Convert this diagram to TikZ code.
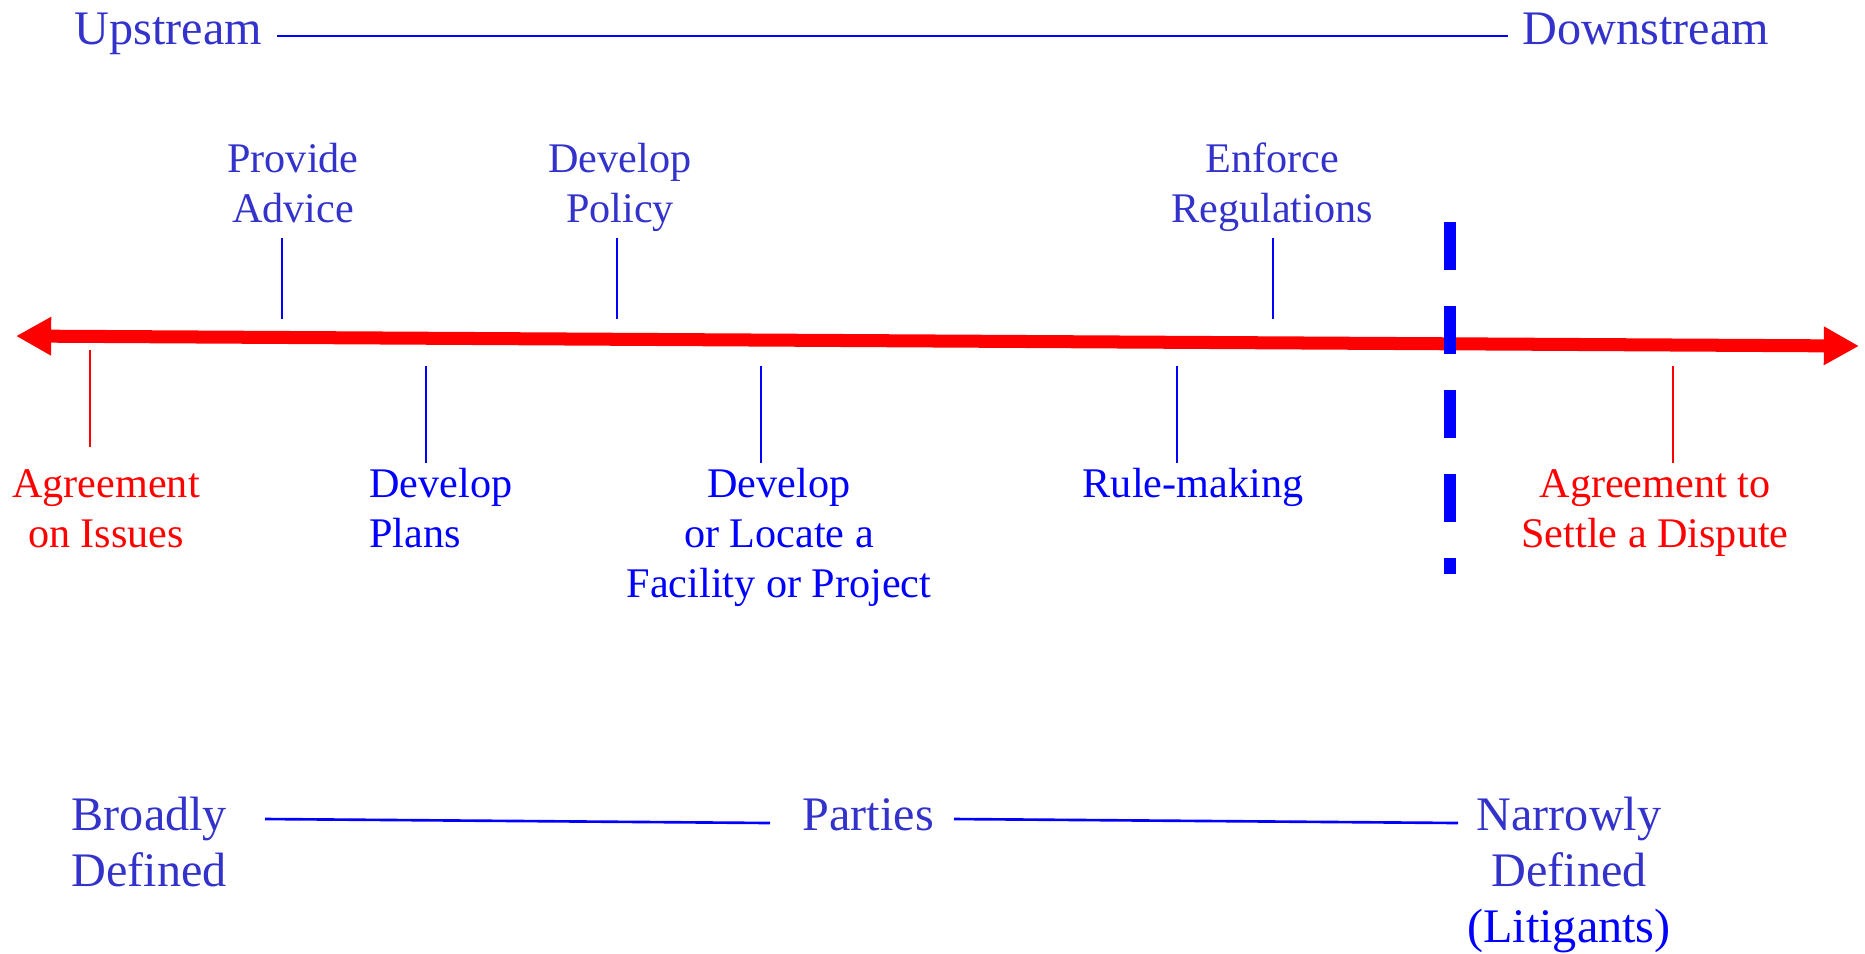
\documentclass[tikz,border=0pt]{standalone}
\usepackage{fontspec}
\setmainfont{Liberation Serif}
\usepackage{xcolor}
\usetikzlibrary{arrows.meta}

\definecolor{softblue}{RGB}{51,51,204}

\begin{document}
\begin{tikzpicture}[x=0.01cm,y=-0.01cm]

\useasboundingbox (0,0) rectangle (1865,953);

\tikzstyle{headtext} = [softblue, font=\fontsize{13.7}{15.9}\selectfont, align=center, anchor=base, inner sep=4pt]
\tikzstyle{steptext} = [softblue, font=\fontsize{12}{14.2}\selectfont, align=center, anchor=base]
\tikzstyle{lowtext} = [blue, font=\fontsize{12}{14.2}\selectfont, align=center, anchor=base]
\tikzstyle{goaltext} = [red, font=\fontsize{12}{14.2}\selectfont, align=center, anchor=base]
\tikzstyle{tick} = [blue, line width=0.6pt]
\tikzstyle{scale line} = [blue, line width=0.75pt]

% upstream -- downstream
\node (up) [headtext, anchor=base west, text height=0.68em, text depth=0.22em] at (60,44) {Upstream};
\node (down) [headtext, anchor=base west, text height=0.68em, text depth=0.22em] at (1508,44) {Downstream};
\draw[scale line] (up.east) -- (down.west);

% the red axis
\coordinate (west) at (16,336);
\coordinate (east) at (1859,346);
\draw[red, line width=3.7pt, {Triangle[length=10pt,width=10.3pt]}-{Triangle[length=10pt,width=10.3pt]}] (west) -- (east);

% steps above the axis (base = last line)
\node (advice) [steptext] at (293,222) {Provide\\Advice};
\node (policy) [steptext] at (620,222) {Develop\\Policy};
\node (enforce) [steptext] at (1272,222) {Enforce\\Regulations};

% steps below the axis
\node (issues) [goaltext] at (106,547) {Agreement\\on Issues};
\node (plans) [lowtext, align=left, anchor=base west] at (357,547) {Develop\\Plans};
\node (facility) [lowtext] at (779,597) {Develop\\or Locate a\\Facility or Project};
\node (rules) [lowtext] at (1193,497) {Rule-making};
\node (settle) [goaltext] at (1655,547) {Agreement to\\Settle a Dispute};

% ticks
\foreach \n/\x/\a/\b/\c in {advice/282/238/319/blue, policy/617/238/319/blue, enforce/1273/238/319/blue,
    issues/90/350/447/red, plans/426/366/463/blue, facility/761/366/463/blue,
    rules/1177/366/463/blue, settle/1673/366/463/red}
{
  \coordinate (\n top) at (\x,\a);
  \coordinate (\n bot) at (\x,\b);
  \draw[tick, draw=\c] (\n top) -- (\n bot);
}

% the divide
\coordinate (cutT) at (1450,222);
\coordinate (cutB) at (1450,574);
\draw[blue, line width=3.4pt, dash pattern=on 13.66pt off 10.24pt] (cutT) -- (cutB);

% parties
\node (broad) [headtext, align=left, anchor=base west] at (57,886) {Broadly\\Defined};
\node (parties) [headtext, anchor=base west] at (788,830) {Parties};
\node (narrow) [headtext] at (1569,942) {Narrowly\\Defined\\\textcolor{blue}{(Litigants)}};

\coordinate (pa) at (265,819);
\coordinate (pb) at (770,823);
\coordinate (pc) at (954,819);
\coordinate (pd) at (1458,823);
\draw[scale line] (pa) -- (pb);
\draw[scale line] (pc) -- (pd);

\end{tikzpicture}
\end{document}
